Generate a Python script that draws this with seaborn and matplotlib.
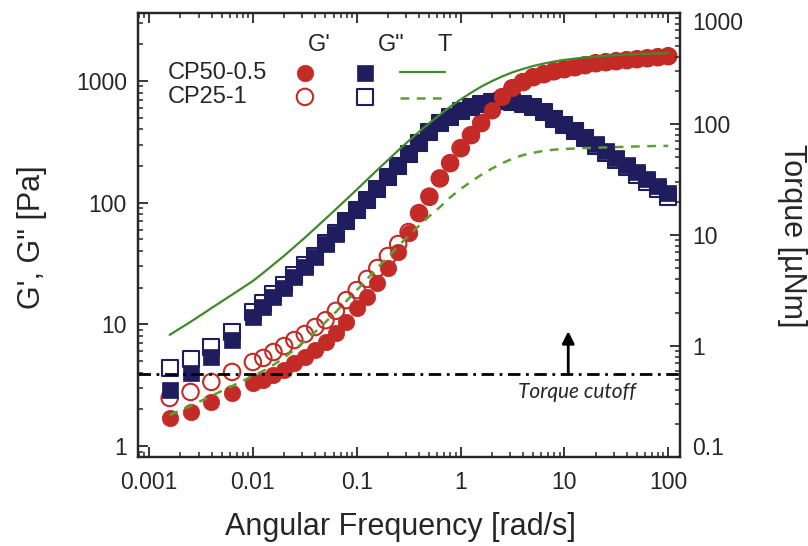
import matplotlib
matplotlib.use("Agg")
import matplotlib.pyplot as plt
import pandas as pd
import seaborn as sns

# ---------------- data ----------------
freq = [0.00158, 0.00251, 0.00398, 0.00631,
        0.0100, 0.0126, 0.0158, 0.0200, 0.0251, 0.0316, 0.0398, 0.0501, 0.0631, 0.0794,
        0.100, 0.126, 0.158, 0.200, 0.251, 0.316, 0.398, 0.501, 0.631, 0.794,
        1.00, 1.26, 1.58, 2.00, 2.51, 3.16, 3.98, 5.01, 6.31, 7.94,
        10.0, 12.6, 15.8, 20.0, 25.1, 31.6, 39.8, 50.1, 63.1, 79.4,
        100.0]

gp_cp50 = [1.70, 1.90, 2.30, 2.73,
           3.30, 3.49, 3.83, 4.21, 4.81, 5.39, 6.15, 7.16, 8.49, 10.4,
           13.6, 16.8, 21.8, 29.0, 39.3, 56.3, 82, 111, 159, 212,
           281, 359, 451, 576, 738, 875, 980, 1076, 1140, 1206,
           1253, 1301, 1351, 1403, 1430, 1458, 1486, 1513, 1542, 1572,
           1602]

gp_cp25 = [2.48, 2.78, 3.36, 4.06,
           4.90, 5.29, 5.92, 6.63, 7.43, 8.32, 9.5, 10.8, 12.9, 15.8,
           19.1, 23.6, 29.0, 36.4, 45.7, 57.3, 82, 112, 158, 211,
           280, 358, 450, 574, 735, 872, 978, 1072, 1136, 1200,
           1248, 1296, 1346, 1398, 1425, 1452, 1480, 1508, 1536, 1566,
           1596]

gpp_cp50 = [2.88, 3.98, 5.4, 7.4,
            11.5, 13.9, 16.8, 19.9, 24.5, 29.6, 35.7, 45.7, 55.2, 70.6,
            86.9, 105, 129, 162, 200, 251, 309, 380, 451, 505,
            566, 611, 646, 671, 684, 671, 646, 611, 555, 496,
            443, 395, 346, 303, 265, 232, 204, 178, 156, 137,
            120]

gpp_cp25 = [4.4, 5.2, 6.5, 8.6,
            12.6, 15.0, 17.9, 21.0, 25.6, 30.5, 36.5, 46.4, 55.8, 71.1,
            87.2, 105, 129, 162, 200, 251, 309, 380, 451, 505,
            566, 611, 646, 671, 684, 671, 646, 611, 552, 490,
            436, 386, 337, 294, 256, 222, 195, 170, 148, 129,
            112]

torque_cp50 = [1.26, 1.65, 2.19, 2.90,
               3.85, 4.56, 5.43, 6.50, 7.82, 9.44, 11.5, 14.0, 17.1, 20.9,
               25.6, 31.5, 38.6, 47.3, 57.8, 70.3, 84.9, 102, 121, 143,
               166, 191, 217, 243, 268, 292, 313, 333, 350, 365,
               378, 388, 397, 405, 411, 417, 422, 426, 430, 433,
               436]

torque_cp25 = [0.239, 0.288, 0.355, 0.436,
               0.537, 0.596, 0.676, 0.785, 0.927, 1.11, 1.34, 1.64, 2.03, 2.54,
               3.18, 4.01, 5.05, 6.34, 7.93, 9.84, 12.1, 14.8, 17.8, 21.8,
               25.9, 30.2, 34.8, 39.6, 44.3, 48.6, 52.4, 55.0, 57.3, 58.7,
               59.6, 60.1, 60.7, 61.1, 61.5, 61.9, 62.4, 62.8, 63.1, 63.4,
               63.5]

torque_cutoff = 0.56
samples = ["CP50-0.5", "CP25-1"]
col_headers = ["G'", 'G"', "T"]
x_ticks = [0.001, 0.01, 0.1, 1, 10, 100]
x_ticklabels = ["0.001", "0.01", "0.1", "1", "10", "100"]
g_ticks = [1, 10, 100, 1000]
g_ticklabels = ["1", "10", "100", "1000"]
t_ticks = [0.1, 1, 10, 100, 1000]
t_ticklabels = ["0.1", "1", "10", "100", "1000"]

# ---------------- style ----------------
sns.set_style("ticks")
plt.rcParams["font.family"] = ["Liberation Sans", "DejaVu Sans"]
plt.rcParams["axes.linewidth"] = 1.6

RED = "#c42a26"
NAVY = "#1f1d5e"
GREEN = "#3f8a2c"
GREEN2 = "#5e9f33"

df = pd.DataFrame({"freq": freq, "gp50": gp_cp50, "gp25": gp_cp25,
                   "gpp50": gpp_cp50, "gpp25": gpp_cp25,
                   "t50": torque_cp50, "t25": torque_cp25})

fig = plt.figure(figsize=(8.08, 5.46), dpi=100)
ax = fig.add_axes([0.1708, 0.1630, 0.6708, 0.8132])
ax.set_xscale("log")
ax.set_yscale("log")

S_SQ = 125
S_CI = 140
sns.scatterplot(data=df, x="freq", y="gpp25", ax=ax, marker="s", s=S_SQ,
                facecolors="white", edgecolor=NAVY, linewidth=1.5, zorder=2)
sns.scatterplot(data=df, x="freq", y="gp25", ax=ax, marker="o", s=S_CI,
                facecolors="none", edgecolor=RED, linewidth=1.5, zorder=3)
sns.scatterplot(data=df, x="freq", y="gpp50", ax=ax, marker="s", s=S_SQ,
                color=NAVY, edgecolor=NAVY, linewidth=0.5, zorder=4)
sns.scatterplot(data=df, x="freq", y="gp50", ax=ax, marker="o", s=S_CI,
                color=RED, edgecolor=RED, linewidth=0.5, zorder=5)

ax.set_xlim(0.000783, 130)
ax.set_ylim(0.812, 3614)

ax2 = ax.twinx()
ax2.set_yscale("log")
sns.lineplot(data=df, x="freq", y="t50", ax=ax2, color=GREEN, linewidth=1.6)
sns.lineplot(data=df, x="freq", y="t25", ax=ax2, color=GREEN2, linewidth=1.8,
             linestyle=(0, (3.5, 3)))
ax2.axhline(torque_cutoff, color="black", linewidth=2.0,
            linestyle=(0, (4.5, 2, 1, 2)))
ax2.set_ylim(0.1, 1000)
ax2.set_xlim(0.000783, 130)

ax2.annotate("", xy=(10.9, 1.36), xytext=(10.9, torque_cutoff),
             arrowprops=dict(arrowstyle="-|>", color="black", lw=2.0,
                             mutation_scale=18, shrinkA=0, shrinkB=0))
ax2.text(13.3, 0.385, "Torque cutoff", style="italic", ha="center",
         va="center", fontsize=15, family=["Lato", "DejaVu Sans"])

# ticks
ax.set_xticks(x_ticks)
ax.set_xticklabels(x_ticklabels)
ax.set_yticks(g_ticks)
ax.set_yticklabels(g_ticklabels)
ax2.set_yticks(t_ticks)
ax2.set_yticklabels([""] + t_ticklabels[1:-1] + [""])
for a in (ax, ax2):
    a.tick_params(which="major", direction="in", length=7.5, width=1.3,
                  labelsize=16.5)
    a.tick_params(which="minor", direction="in", length=3.8, width=1.1)
ax.tick_params(axis="x", which="both", top=True, pad=10)
ax.tick_params(axis="y", which="both", right=False, pad=8)
ax2.tick_params(axis="y", which="both", pad=9)
# end labels of the torque axis sit slightly inside the frame
ax2.text(1.022, 0.020, t_ticklabels[0], transform=ax2.transAxes,
         fontsize=16.5, ha="left", va="center")
ax2.text(1.022, 0.977, t_ticklabels[-1], transform=ax2.transAxes,
         fontsize=16.5, ha="left", va="center")

ax.set_xlabel("Angular Frequency [rad/s]", fontsize=22)
ax.set_ylabel("G', G\" [Pa]", fontsize=22)
ax2.set_ylabel("Torque [µNm]", fontsize=22, rotation=270)
ax.xaxis.set_label_coords(0.4834, -0.1577)
ax.xaxis.label.set_va("center")
ax.yaxis.set_label_coords(-0.1956, 0.4955)
ax.yaxis.label.set_va("center")
ax.yaxis.label.set_ha("center")
ax2.yaxis.set_label_coords(1.2066, 0.498)
ax2.yaxis.label.set_va("center")
ax2.yaxis.label.set_ha("center")

# table-like legend
T = ax2.transAxes
for xh, h in zip([0.314, 0.443, 0.553], col_headers):
    ax2.text(xh, 0.928, h, transform=T, fontsize=17, ha="left", va="center")
for yy, name in zip([0.865, 0.811], samples):
    ax2.text(0.0554, yy, name, transform=T, fontsize=17, ha="left", va="center")
ax2.scatter([0.308], [0.865], transform=T, marker="o", s=S_CI, color=RED,
            edgecolor=RED, linewidth=0.5)
ax2.scatter([0.419], [0.865], transform=T, marker="s", s=S_SQ, color=NAVY,
            edgecolor=NAVY, linewidth=0.5)
ax2.plot([0.483, 0.566], [0.867, 0.867], transform=T, color=GREEN, lw=1.6)
ax2.scatter([0.308], [0.811], transform=T, marker="o", s=S_CI,
            facecolors="none", edgecolor=RED, linewidth=1.5)
ax2.scatter([0.419], [0.811], transform=T, marker="s", s=S_SQ,
            facecolors="white", edgecolor=NAVY, linewidth=1.5)
ax2.plot([0.483, 0.566], [0.809, 0.809], transform=T, color=GREEN2, lw=1.8,
         linestyle=(0, (3.5, 3)))

fig.savefig("out.png", dpi=100)
